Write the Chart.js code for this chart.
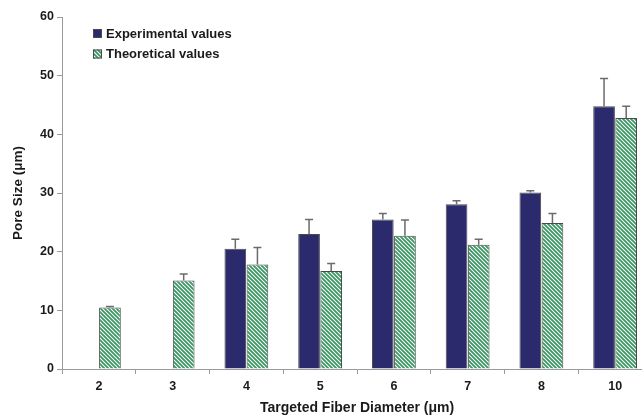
<!DOCTYPE html>
<html>
<head>
<meta charset="utf-8">
<script src="https://cdn.jsdelivr.net/npm/chart.js@4/dist/chart.umd.min.js"></script>
<style>
  html, body { margin: 0; padding: 0; background: #fff; overflow: hidden; width: 642px; height: 418px; }
  canvas { display: block; }
</style>
</head>
<body>
<canvas id="c" width="660" height="418"></canvas>
<script>
// Targeted fiber diameters (µm)
const diameters = ['2', '3', '4', '5', '6', '7', '8', '10'];

// Pore size (µm): measured means and upward standard deviations
const experimental = [null, null, 20.5, 23.0, 25.5, 28.1, 30.1, 44.8];
const experimentalErr = [null, null, 1.6, 2.5, 1.0, 0.6, 0.3, 4.7];

// Pore size (µm): model predictions and their spread
const theoretical = [10.5, 15.1, 17.8, 16.7, 22.7, 21.2, 24.9, 42.8];
const theoreticalErr = [0.15, 1.1, 2.9, 1.3, 2.7, 0.9, 1.6, 2.0];

const yTicks = [0, 10, 20, 30, 40, 50, 60];

const FONT = '"Liberation Sans", Arial, sans-serif';
const NAVY = '#2b2a6c';
const GREEN = '#3a9662';
const EDGE = '#4a4a4a';

// Diagonal green/white hatch fill
function makeHatch() {
  const s = 4;
  const pc = document.createElement('canvas');
  pc.width = s; pc.height = s;
  const g = pc.getContext('2d');
  g.fillStyle = '#ffffff';
  g.fillRect(0, 0, s, s);
  g.strokeStyle = GREEN;
  g.lineWidth = 1.8;
  g.beginPath();
  g.moveTo(-1, -1); g.lineTo(s + 1, s + 1);
  g.moveTo(-1, s - 1); g.lineTo(1, s + 1);
  g.moveTo(s - 1, -1); g.lineTo(s + 1, 1);
  g.stroke();
  return g.createPattern(pc, 'repeat');
}
const hatch = makeHatch();

// Upward error bars with a cap
const errorBars = {
  id: 'errorBars',
  afterDatasetsDraw(chart) {
    const ctx = chart.ctx;
    const y = chart.scales.y;
    chart.data.datasets.forEach((ds, i) => {
      const meta = chart.getDatasetMeta(i);
      meta.data.forEach((bar, j) => {
        const v = ds.data[j];
        const e = ds.errors[j];
        if (v == null || e == null) return;
        const yTop = y.getPixelForValue(v + e);
        const yBase = y.getPixelForValue(v);
        ctx.save();
        ctx.strokeStyle = '#6b6b6b';
        ctx.lineWidth = 1.5;
        ctx.beginPath();
        ctx.moveTo(bar.x, yBase);
        ctx.lineTo(bar.x, yTop);
        ctx.moveTo(bar.x - 4, yTop);
        ctx.lineTo(bar.x + 4, yTop);
        ctx.stroke();
        ctx.restore();
      });
    });
  }
};

// Legend placed inside the plot, upper left
const innerLegend = {
  id: 'innerLegend',
  afterDraw(chart) {
    const ctx = chart.ctx;
    const x0 = 93, rows = [33.5, 54];
    ctx.save();
    ctx.font = 'bold 13px ' + FONT;
    ctx.textBaseline = 'middle';
    chart.data.datasets.forEach((ds, i) => {
      const cy = rows[i];
      ctx.fillStyle = ds.backgroundColor;
      ctx.fillRect(x0, cy - 4.5, 9, 9);
      ctx.strokeStyle = EDGE;
      ctx.lineWidth = 1;
      ctx.strokeRect(x0 + 0.5, cy - 4, 8, 8);
      ctx.fillStyle = '#1a1a1a';
      ctx.fillText(ds.label, x0 + 13, cy + 0.5);
    });
    ctx.restore();
  }
};

new Chart(document.getElementById('c'), {
  type: 'bar',
  data: {
    labels: diameters,
    datasets: [
      {
        label: 'Experimental values',
        data: experimental,
        errors: experimentalErr,
        backgroundColor: NAVY,
        borderColor: EDGE,
        borderWidth: 1,
        categoryPercentage: 0.6,
        barPercentage: 0.98
      },
      {
        label: 'Theoretical values',
        data: theoretical,
        errors: theoreticalErr,
        backgroundColor: hatch,
        borderColor: EDGE,
        borderWidth: 1,
        categoryPercentage: 0.6,
        barPercentage: 0.98
      }
    ]
  },
  options: {
    responsive: false,
    animation: false,
    layout: { padding: { top: 17, right: 8, left: 0, bottom: 0 } },
    plugins: {
      legend: { display: false },
      tooltip: { enabled: false }
    },
    scales: {
      x: {
        offset: true,
        border: { color: '#9a9a9a', width: 1 },
        grid: { display: true, offset: true, drawOnChartArea: false, drawTicks: true, tickLength: 5, color: '#9a9a9a' },
        ticks: { color: '#1a1a1a', font: { family: FONT, size: 12.5, weight: 'bold' }, padding: 5, maxRotation: 0 },
        title: {
          display: true,
          text: 'Targeted Fiber Diameter (μm)',
          color: '#1a1a1a',
          font: { family: FONT, size: 14, weight: 'bold' },
          padding: { top: 0, bottom: 1 }
        },
        afterFit(scale) { scale.height = 49; }
      },
      y: {
        min: 0,
        max: 60,
        border: { color: '#9a9a9a', width: 1 },
        grid: { display: true, drawOnChartArea: false, drawTicks: true, tickLength: 5, color: '#9a9a9a' },
        afterBuildTicks(scale) { scale.ticks = yTicks.map(v => ({ value: v })); },
        ticks: { color: '#1a1a1a', font: { family: FONT, size: 12.5, weight: 'bold' }, padding: 3 },
        title: {
          display: true,
          text: 'Pore Size (μm)',
          color: '#1a1a1a',
          font: { family: FONT, size: 13.5, weight: 'bold' },
          padding: { top: 10, bottom: 0 }
        },
        afterFit(scale) { scale.width = 62; }
      }
    }
  },
  plugins: [errorBars, innerLegend]
});
</script>
</body>
</html>
